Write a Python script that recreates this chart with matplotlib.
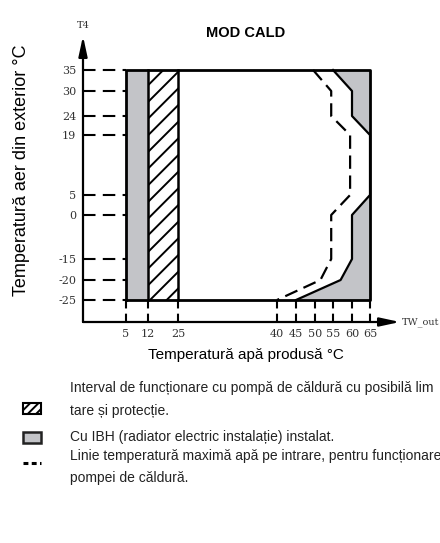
import matplotlib.pyplot as plt
import numpy as np
from matplotlib.patches import Rectangle

# Date citite din diagramă
t4_ticks = [35, 30, 24, 19, 5, 0, -15, -20, -25]
tw_ticks = [5, 12, 25, 40, 45, 50, 55, 60, 65]

# limita solidă (IBH) si limita punctată (apă pe intrare)
solid_x = [55, 60, 60, 65, 65, 60, 60, 57, 45]
solid_y = [35, 30, 24, 19, 5, 0, -15, -20, -25]
dash_x = [49.5, 54.5, 54.5, 59.5, 59.5, 54.5, 54.5, 51.5, 40]
dash_y = [35, 30, 24, 19, 5, 0, -15, -20, -25]

grey = '#c3c4c8'
W, H = 440, 543

# scale neliniare (schema nu e la scară)
xv = [-3, 5, 12, 25, 40, 45, 50, 55, 60, 65, 76]
xp = [83, 126, 148, 178, 277, 296, 315, 333, 352, 370, 400]
yv = [-30, -25, -20, -15, 0, 5, 19, 24, 30, 35, 47]
yp = [322, 300, 280, 259, 215, 195, 135, 116, 91, 70, 36]
yp_up = [H - p for p in yp]

def fx(v):
    return np.interp(v, xv, xp)

def fx_inv(p):
    return np.interp(p, xp, xv)

def fy(v):
    return np.interp(v, yv, yp_up)

def fy_inv(p):
    return np.interp(p, yp_up, yv)

plt.rcParams['hatch.linewidth'] = 1.4
plt.rcParams['axes.unicode_minus'] = False
fig = plt.figure(figsize=(W / 100, H / 100), dpi=100)
ax = fig.add_axes([xp[0] / W, (H - yp[0]) / H, (xp[-1] - xp[0]) / W, (yp[0] - yp[-1]) / H])
ax.set_xscale('function', functions=(fx, fx_inv))
ax.set_yscale('function', functions=(fy, fy_inv))
ax.set_xlim(xv[0], xv[-1])
ax.set_ylim(yv[0], yv[-1])
for s in ax.spines.values():
    s.set_visible(False)

ymin, ymax = min(t4_ticks), max(t4_ticks)
xmin, xmax = min(tw_ticks), max(tw_ticks)

# zone
ax.fill_betweenx([ymin, ymax], 5, 12, color=grey, lw=0)
ax.fill_betweenx([ymin, ymax], 12, 25, facecolor='white', edgecolor='black', hatch='//', lw=0)
ax.fill_betweenx(solid_y, solid_x, xmax, color=grey, lw=0)

# contur
ax.plot([xmin, xmax, xmax, xmin, xmin], [ymin, ymin, ymax, ymax, ymin], color='black', lw=2)
for xx in [12, 25]:
    ax.plot([xx, xx], [ymin, ymax], color='black', lw=1.8)
ax.plot(solid_x, solid_y, color='black', lw=1.6)
ax.plot(dash_x, dash_y, color='black', lw=1.6, dashes=(6, 3))

# linii ajutătoare punctate
for t in t4_ticks:
    ax.plot([xv[0], xmin], [t, t], color='black', lw=1.5, dashes=(6, 3.5))
for t in tw_ticks:
    ax.plot([t, t], [yv[0], ymin], color='black', lw=1.5, dashes=(4, 2.5))

# axe cu săgeți
arrow = dict(arrowstyle='-|>,head_length=0.6,head_width=0.13', lw=1.6, color='black',
             mutation_scale=20, shrinkA=0, shrinkB=0)
ax.annotate('', xy=(1, 0), xytext=(0, 0), xycoords='axes fraction', arrowprops=arrow)
ax.annotate('', xy=(0, 1), xytext=(0, 0), xycoords='axes fraction', arrowprops=arrow)

ax.set_xticks(tw_ticks)
ax.set_yticks(t4_ticks)
ax.tick_params(length=0, labelsize=8, labelcolor='#333333', pad=5)
for lab in ax.get_xticklabels() + ax.get_yticklabels():
    lab.set_family('DejaVu Serif')
ax.text(1.005, 0, 'TW_out', transform=ax.transAxes, ha='left', va='center',
        fontsize=7, family='DejaVu Serif', color='#333333')
ax.text(0, 1.02, 'T4', transform=ax.transAxes, ha='center', va='bottom',
        fontsize=7, family='DejaVu Serif', color='#333333')

sans = ['Liberation Sans', 'DejaVu Sans']
fig.text(246 / W, 1 - 33 / H, 'MOD CALD', ha='center', va='center', fontsize=10.5,
         fontweight='bold', family=sans)
fig.text(246 / W, 1 - 355 / H, 'Temperatură apă produsă °C', ha='center', va='center',
         fontsize=11, family=sans)
fig.text(22 / W, 1 - 170 / H, 'Temperatură aer din exterior °C', ha='center', va='center',
         fontsize=13, rotation=90, family=sans)

# legendă
lg = fig.add_axes([0, 0, 1, 1])
lg.set_xlim(0, W)
lg.set_ylim(H, 0)
lg.axis('off')
lg.add_patch(Rectangle((23, 403), 18, 11, facecolor='white', edgecolor='black', hatch='////', lw=1.5))
lg.add_patch(Rectangle((23, 432), 18, 11, facecolor=grey, edgecolor='#222222', lw=1.8))
lg.plot([23, 41], [463, 463], color='black', lw=2.2, dashes=(1.6, 1.1))

leg_lines = [
    (388, 'Interval de funcționare cu pompă de căldură cu posibilă lim'),
    (411, 'tare și protecție.'),
    (437, 'Cu IBH (radiator electric instalație) instalat.'),
    (456, 'Linie temperatură maximă apă pe intrare, pentru funcționare'),
    (478, 'pompei de căldură.'),
]
for yy, txt in leg_lines:
    lg.text(70, yy, txt, ha='left', va='center', fontsize=10, family=sans, color='#222222')

fig.savefig('out.png', dpi=100)
